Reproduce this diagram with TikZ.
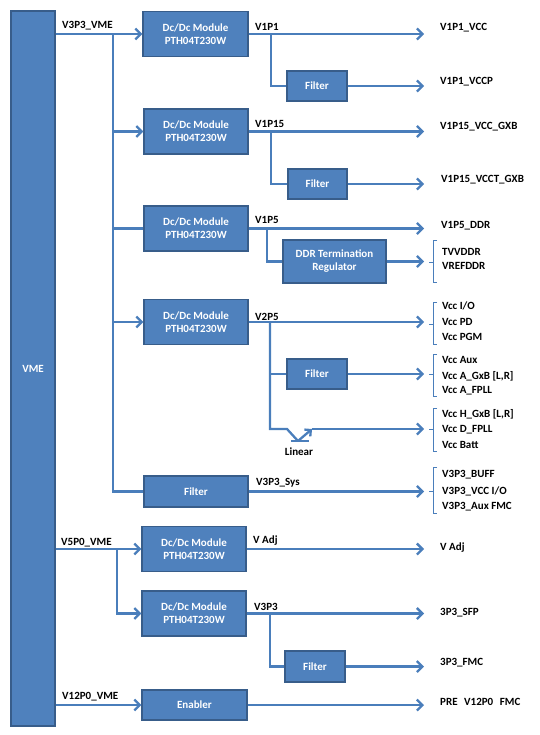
\documentclass[tikz,border=0pt]{standalone}
\usepackage{fontspec}
\setmainfont{Carlito}
\usetikzlibrary{arrows.meta}
\definecolor{boxfill}{HTML}{4F81BD}
\definecolor{boxline}{HTML}{385D8A}
\definecolor{wirec}{HTML}{4A7EBB}
\begin{document}
\begin{tikzpicture}[x=1pt,y=-1pt,
  font=\fontsize{11}{13}\selectfont\bfseries,
  blk/.style={draw=boxline, line width=1.1pt, fill=boxfill, text=white, inner sep=0pt, align=center},
  wire/.style={draw=wirec, line width=2.3pt},
  arr/.style={wire, -{Straight Barb[length=5.5pt,width=11pt]}},
  lbl/.style={anchor=west, inner sep=0pt},
  tag/.style={anchor=south west, inner sep=0pt},
  brk/.style={draw=wirec, line width=0.7pt}]
\useasboundingbox (0,0) rectangle (539,735);

% VME bar
\node[blk, minimum width=44pt, minimum height=715pt] (vme) at (33,368.5) {VME};

% boxes
\node[blk, minimum width=105pt, minimum height=45pt] (b1) at (195.5,34) {Dc/Dc Module\\PTH04T230W};
\node[blk, minimum width=104pt, minimum height=45pt] (b2) at (196,131.5) {Dc/Dc Module\\PTH04T230W};
\node[blk, minimum width=104pt, minimum height=45pt] (b3) at (196,228.5) {Dc/Dc Module\\PTH04T230W};
\node[blk, minimum width=104pt, minimum height=45pt] (b4) at (196,322) {Dc/Dc Module\\PTH04T230W};
\node[blk, minimum width=104pt, minimum height=31pt] (fs) at (196,491.5) {Filter};
\node[blk, minimum width=104pt, minimum height=45pt] (b5) at (194,549) {Dc/Dc Module\\PTH04T230W};
\node[blk, minimum width=104pt, minimum height=45pt] (b6) at (194,613.5) {Dc/Dc Module\\PTH04T230W};
\node[blk, minimum width=105pt, minimum height=30pt] (en) at (194.5,705) {Enabler};

\node[blk, minimum width=60pt, minimum height=30pt] (f1) at (317,86) {Filter};
\node[blk, minimum width=59pt, minimum height=30pt] (f2) at (317.5,184) {Filter};
\node[blk, minimum width=103pt, minimum height=43pt] (ddr) at (334.5,261.5) {DDR Termination\\Regulator};
\node[blk, minimum width=60pt, minimum height=30pt] (f4) at (317,374) {Filter};
\node[blk, minimum width=60pt, minimum height=31pt] (f6) at (315,666.5) {Filter};

% helper coordinates
\coordinate (tx) at (424,0);
\coordinate (bus) at (113,0);
\coordinate (bus2) at (117,0);
\coordinate (r1) at (271,0);
\coordinate (r3) at (267,0);
\coordinate (r4) at (270,0);
\coordinate (la) at (287,429);
\coordinate (lb) at (298,441);
\coordinate (lc) at (312,429);
\coordinate (lbar1) at (291,441);
\coordinate (lbar2) at (309,441);

% left inputs
\draw[arr] (vme.east |- b1.west) -- (b1.west);
\draw[wire, line join=miter] (bus |- b1.west) -- (bus |- fs.west) -- (fs.west);
\draw[arr] (bus |- b2.west) -- (b2.west);
\draw[wire] (bus |- b3.west) -- (b3.west);
\draw[arr] (bus |- b4.west) -- (b4.west);
\draw[arr] (vme.east |- b5.west) -- (b5.west);
\draw[arr, line join=miter] (bus2 |- b5.west) |- (b6.west);
\draw[arr] (vme.east |- en.west) -- (en.west);

\node[tag] (t1) at (62,30) {V3P3\_VME};
\node[tag] (t2) at (61,547) {V5P0\_VME};
\node[tag] (t3) at (62,701) {V12P0\_VME};

% outputs
\draw[arr] (b1.east) -- (b1.east -| tx);
\draw[wire, line join=miter] (b1.east -| r1) |- (f1.west);
\draw[arr] (f1.east) -- (f1.east -| tx);
\draw[arr] (b2.east) -- (b2.east -| tx);
\draw[wire, line join=miter] (b2.east -| r1) |- (f2.west);
\draw[arr] (f2.east) -- (f2.east -| tx);
\draw[arr] (b3.east) -- (b3.east -| tx);
\draw[wire, line join=miter] (b3.east -| r3) |- (ddr.west);
\draw[arr] (ddr.east) -- (ddr.east -| tx);
\draw[arr] (b4.east) -- (b4.east -| tx);
\draw[wire, line join=miter] (b4.east -| r4) |- (f4.west);
\draw[arr] (f4.east) -- (f4.east -| tx);
\draw[wire, line join=miter] (b4.east -| r4) |- (la) -- (lb);
\draw[wire] (lbar1) -- (lbar2);
\draw[wire, -{Straight Barb[length=4.5pt,width=9pt]}] (lb) -- (lc);
\draw[arr] (lc) -- (lc -| tx);
\node[inner sep=0pt] (lin) at (299,452) {Linear};
\draw[arr] (fs.east) -- (fs.east -| tx);
\draw[arr] (b5.east) -- (b5.east -| tx);
\draw[arr] (b6.east) -- (b6.east -| tx);
\draw[wire, line join=miter] (b6.east -| r4) |- (f6.west);
\draw[arr] (f6.east) -- (f6.east -| tx);
\draw[arr] (en.east) -- (en.east -| tx);

% tags on outputs
\node[tag] at (255,31) {V1P1};
\node[tag] at (255,128) {V1P15};
\node[tag] at (255,224) {V1P5};
\node[tag] at (255,321) {V2P5};
\node[tag] at (256,487) {V3P3\_Sys};
\node[tag] at (253,546) {V Adj};
\node[tag] at (254,611) {V3P3};

% destination labels
\node[lbl] at (440,28) {V1P1\_VCC};
\node[lbl] at (440,82) {V1P1\_VCCP};
\node[lbl] at (440,127) {V1P15\_VCC\_GXB};
\node[lbl] at (441,180) {V1P15\_VCCT\_GXB};
\node[lbl] at (441,226) {V1P5\_DDR};
\node[lbl] at (440,548) {V Adj};
\node[lbl] at (440,613) {3P3\_SFP};
\node[lbl] at (440,663) {3P3\_FMC};
\node[lbl] at (440,702) {PRE\hspace{0.6em}V12P0\hspace{0.6em}FMC};

% brackets
\foreach \ya/\yb/\ym in {240/282/262, 302/344/324, 354/396/374, 408/451/429, 467/513/491}{
  \draw[brk] (437,\ya) -- (433,\ya) -- (433,\yb) -- (437,\yb);
  \draw[brk] (433,\ym) -- (429,\ym);
}
\node[lbl] at (442,252) {TVVDDR};
\node[lbl] at (442,266) {VREFDDR};
\node[lbl] at (442,306) {Vcc I/O};
\node[lbl] at (442,322) {Vcc PD};
\node[lbl] at (442,337) {Vcc PGM};
\node[lbl] at (442,360) {Vcc Aux};
\node[lbl] at (442,376) {Vcc A\_GxB [L,R]};
\node[lbl] at (442,391) {Vcc A\_FPLL};
\node[lbl] at (442,414) {Vcc H\_GxB [L,R]};
\node[lbl] at (442,430) {Vcc D\_FPLL};
\node[lbl] at (442,445) {Vcc Batt};
\node[lbl] at (442,475) {V3P3\_BUFF};
\node[lbl] at (442,491) {V3P3\_VCC I/O};
\node[lbl] at (442,507) {V3P3\_Aux FMC};
\end{tikzpicture}
\end{document}
